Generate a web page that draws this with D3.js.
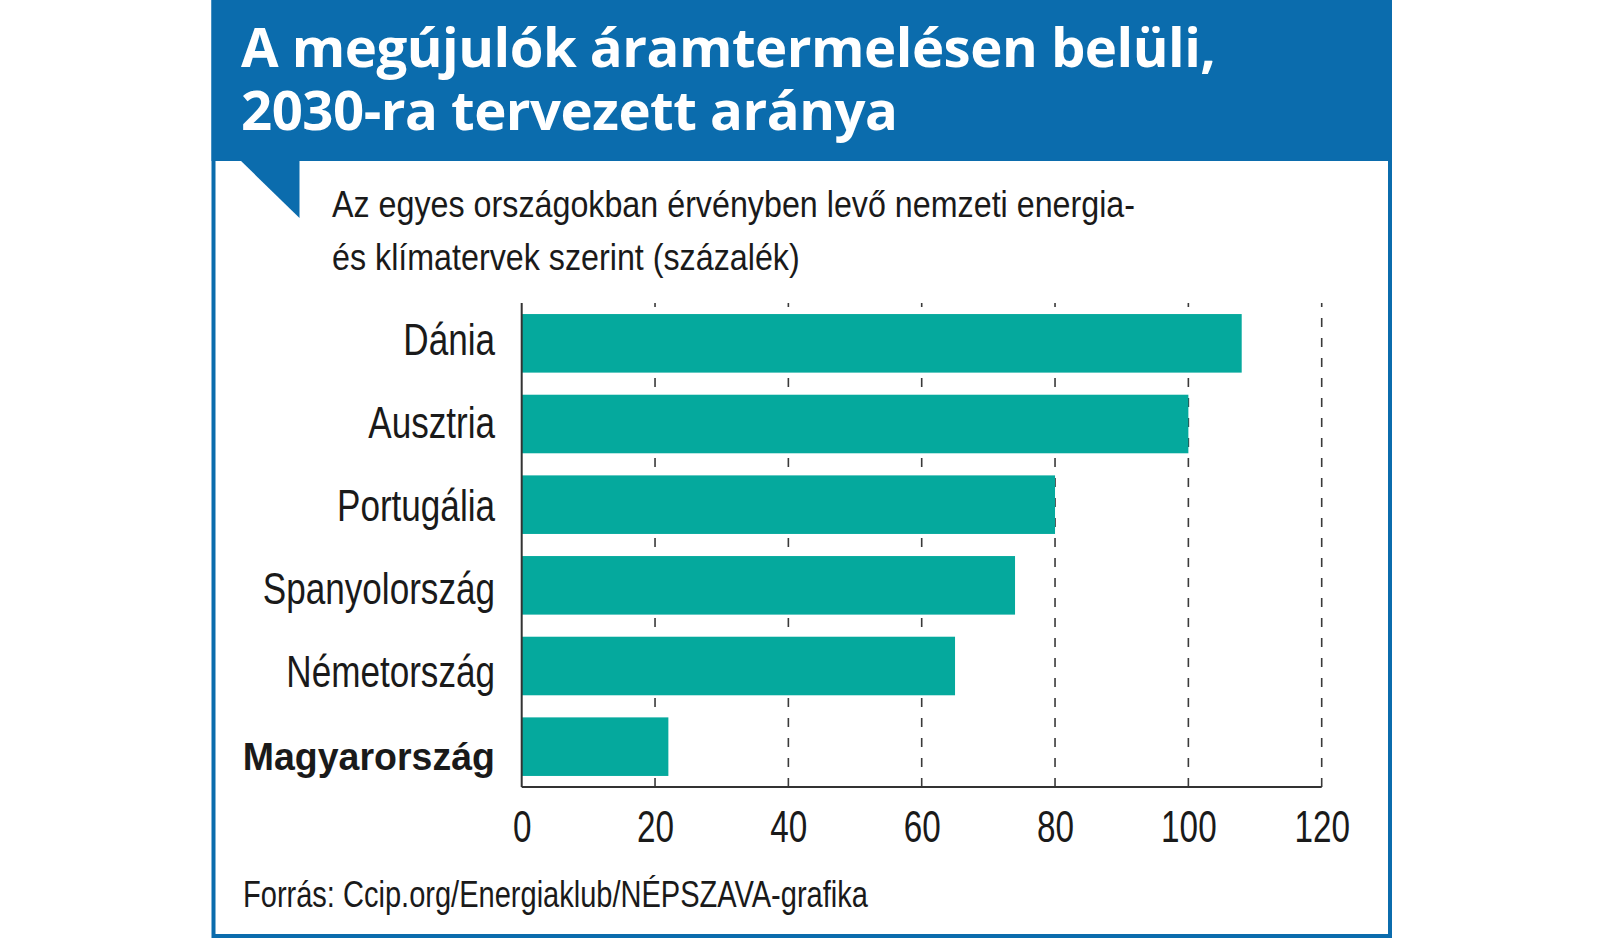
<!DOCTYPE html>
<html>
<head>
<meta charset="utf-8">
<script src="https://cdn.jsdelivr.net/npm/d3@7"></script>
<style>
  body { margin: 0; background: #fff; }
  text { font-family: "Liberation Sans", Arial, sans-serif; }
</style>
</head>
<body>
<svg id="chart" width="1600" height="943"></svg>
<script>
// chart data
var countries = ["Dánia", "Ausztria", "Portugália", "Spanyolország", "Németország", "Magyarország"];
var shares = [108, 100, 80, 74, 65, 22];
var highlighted = "Magyarország";
var xTicks = [0, 20, 40, 60, 80, 100, 120];

var titleLines = ["A megújulók áramtermelésen belüli,", "2030-ra tervezett aránya"];
var subtitleLines = ["Az egyes országokban érvényben levő nemzeti energia-", "és klímatervek szerint (százalék)"];
var sourceText = "Forrás: Ccip.org/Energiaklub/NÉPSZAVA-grafika";

var blue = "#0b6cad",
    teal = "#05a99d",
    ink = "#1a1a1a";

var svg = d3.select("#chart");

/*
 *** No condensed face is installed, so squeeze the plain one horizontally
 */
function condense(selection, sx){
    selection.each(function(){
        var t = d3.select(this);
        var tx = +t.attr("x") || 0,
            ty = +t.attr("y") || 0;
        t.attr("x", 0).attr("y", 0)
            .attr("transform", "translate(" + tx + "," + ty + ") scale(" + sx + ",1)");
    });
}

/*
 *** Frame, header band and the small flag under it
 */
svg.append("rect")
    .attr("x", 213.5).attr("y", -10)
    .attr("width", 1176.5).attr("height", 946)
    .attr("fill", "#fff")
    .attr("stroke", blue)
    .attr("stroke-width", 4);

svg.append("rect")
    .attr("x", 211.5).attr("y", 0)
    .attr("width", 1180.5).attr("height", 161)
    .attr("fill", blue);

svg.append("path")
    .attr("d", "M240,160 L299.5,160 L299.5,218 Z")
    .attr("fill", blue);

// title, one text block with a line per tspan
svg.append("text")
    .attr("fill", "#fff")
    .style("font-family", "'Open Sans', sans-serif")
    .attr("font-weight", 700)
    .attr("font-size", 54.5)
    .attr("letter-spacing", -0.5)
    .selectAll("tspan")
    .data(titleLines)
    .enter().append("tspan")
    .attr("x", 241)
    .attr("y", function(d, i){ return 67 + i * 63; })
    .text(function(d){ return d; });

// subtitle
svg.append("g").selectAll("text")
    .data(subtitleLines)
    .enter().append("text")
    .attr("x", 332)
    .attr("y", function(d, i){ return 216.5 + i * 53.5; })
    .attr("fill", ink)
    .attr("font-size", 37.5)
    .text(function(d){ return d; })
    .call(condense, 0.86);

/*
 *** Bars
 */
var x = d3.scaleLinear()
    .domain([0, 120])
    .range([521.7, 1321.7]);

var y = d3.scaleBand()
    .domain(countries)
    .range([303, 787])
    .paddingInner(0.274)
    .paddingOuter(0.137);

// the labels sit on a slightly wider spacing than the bars
var labelY = d3.scalePoint()
    .domain(countries)
    .range([355, 770]);

var plot = svg.append("g");

// dashed grid, drawn from the axis upwards
plot.selectAll(".grid")
    .data(xTicks.filter(function(t){ return t > 0; }))
    .enter().append("line")
    .attr("class", "grid")
    .attr("x1", function(d){ return x(d); })
    .attr("x2", function(d){ return x(d); })
    .attr("y1", y.range()[1])
    .attr("y2", y.range()[0])
    .attr("stroke", "#3a3a3a")
    .attr("stroke-width", 1.6)
    .attr("stroke-dasharray", "9,11");

plot.selectAll(".bar")
    .data(countries)
    .enter().append("rect")
    .attr("class", "bar")
    .attr("x", x(0))
    .attr("y", function(d){ return y(d); })
    .attr("width", function(d, i){ return x(shares[i]) - x(0); })
    .attr("height", y.bandwidth())
    .attr("fill", teal);

// axis lines
plot.append("line")
    .attr("x1", x(0)).attr("x2", x(0))
    .attr("y1", y.range()[0]).attr("y2", y.range()[1])
    .attr("stroke", "#333").attr("stroke-width", 2);

plot.append("line")
    .attr("x1", x(0)).attr("x2", x(120))
    .attr("y1", y.range()[1]).attr("y2", y.range()[1])
    .attr("stroke", "#333").attr("stroke-width", 2);

// tick labels
var xAxis = plot.append("g")
    .attr("transform", "translate(0," + y.range()[1] + ")")
    .call(d3.axisBottom(x).tickValues(xTicks).tickSize(0).tickPadding(23));

xAxis.select(".domain").remove();
xAxis.selectAll("text")
    .attr("font-family", null)
    .attr("font-size", 45)
    .attr("fill", ink)
    .call(condense, 0.74);

// country labels
plot.selectAll(".label")
    .data(countries)
    .enter().append("text")
    .attr("class", "label")
    .attr("x", 495)
    .attr("y", function(d){ return labelY(d); })
    .attr("text-anchor", "end")
    .attr("font-weight", function(d){ return d == highlighted ? 700 : 400; })
    .attr("font-size", function(d){ return d == highlighted ? 39.5 : 45; })
    .attr("fill", ink)
    .text(function(d){ return d; })
    .each(function(d){
        condense(d3.select(this), d == highlighted ? 0.95 : 0.78);
    });

// source
svg.append("text")
    .attr("x", 243)
    .attr("y", 907)
    .attr("font-size", 36.3)
    .attr("fill", ink)
    .text(sourceText)
    .call(condense, 0.8);
</script>
</body>
</html>
